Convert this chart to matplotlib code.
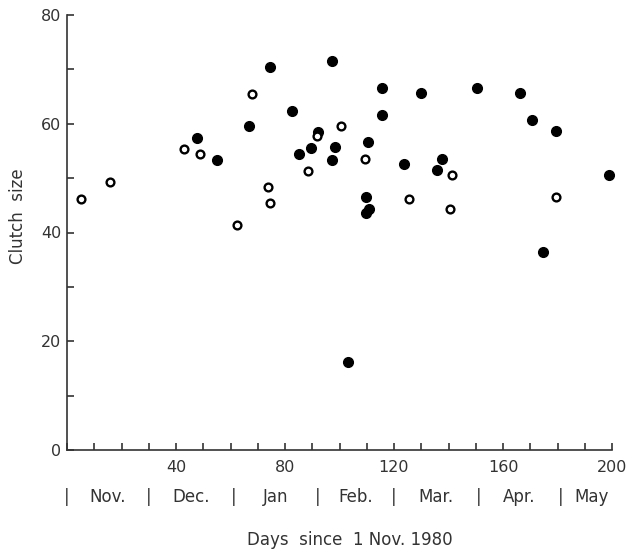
import numpy as np
import matplotlib
matplotlib.use("Agg")
import matplotlib.pyplot as plt
import matplotlib.transforms as mtrans
from matplotlib.ticker import MultipleLocator

# open circles
open_days = [5.1, 15.9, 42.8, 48.8, 62.5, 68.0, 73.6, 74.5, 88.4, 91.6,
             100.5, 109.4, 125.6, 140.5, 141.2, 179.6]
open_size = [46.2, 49.2, 55.3, 54.4, 41.4, 65.4, 48.3, 45.5, 51.3, 57.7,
             59.5, 53.5, 46.2, 44.4, 50.5, 46.5]

# filled circles
fill_days = [47.7, 54.9, 66.7, 74.4, 82.5, 85.1, 89.4, 92.2, 97.3, 98.4,
             97.3, 103.3, 109.6, 110.8, 109.6, 110.5, 115.7, 115.7, 123.6, 129.9,
             135.6, 137.6, 150.5, 166.2, 170.5, 174.5, 179.6, 198.8]
fill_size = [57.4, 53.3, 59.5, 70.5, 62.4, 54.5, 55.5, 58.5, 71.6, 55.7,
             53.4, 16.2, 46.5, 44.3, 43.6, 56.6, 66.6, 61.6, 52.6, 65.7,
             51.5, 53.6, 66.6, 65.7, 60.7, 36.5, 58.6, 50.6]

# month starts (days since 1 Nov 1980)
month_names = ["Nov.", "Dec.", "Jan", "Feb.", "Mar.", "Apr.", "May"]
month_start = [0, 30, 61, 92, 120, 151, 181, 204]

ink = "#333333"
plt.rcParams["font.family"] = ["DejaVu Sans"]

fig = plt.figure(figsize=(6.26, 5.53), dpi=100)
ax = fig.add_axes([67 / 626, 1 - 450 / 553, 545 / 626, 435 / 553])

ax.plot(fill_days, fill_size, "o", color="black", ms=7, mec="black", clip_on=False)
ax.plot(open_days, open_size, "o", mfc="white", mec="black", ms=5.6, mew=1.7,
        clip_on=False)

ax.set_xlim(0, 200)
ax.set_ylim(0, 80)
for s in ("top", "right"):
    ax.spines[s].set_visible(False)
for s in ("left", "bottom"):
    ax.spines[s].set_color(ink)
    ax.spines[s].set_linewidth(1.2)

ax.xaxis.set_major_locator(MultipleLocator(40))
ax.xaxis.set_minor_locator(MultipleLocator(10))
ax.yaxis.set_major_locator(MultipleLocator(20))
ax.yaxis.set_minor_locator(MultipleLocator(10))
ax.tick_params(which="both", direction="in", length=5, width=1.2, color=ink)
ax.tick_params(axis="x", pad=7, labelsize=11.5, labelcolor=ink)
ax.tick_params(axis="y", pad=4, labelsize=11.5, labelcolor=ink)
ax.set_xticks([40, 80, 120, 160, 200])
ax.set_yticks([0, 20, 40, 60, 80])

# month row under the axis
trans = mtrans.blended_transform_factory(ax.transData, fig.transFigure)
row_y = 1 - 497 / 553
for i, name in enumerate(month_names):
    ax.text(month_start[i], row_y, "|", transform=trans, ha="center", va="center",
            fontsize=12, color=ink)
    mid = (month_start[i] + month_start[i + 1]) / 2
    ax.text(mid, row_y, name, transform=trans, ha="center", va="center",
            fontsize=12, color=ink)

fig.text(350 / 626, 1 - 540 / 553, "Days  since  1 Nov. 1980", ha="center",
         va="center", fontsize=12, color=ink)
fig.text(18 / 626, 1 - 216 / 553, "Clutch  size", rotation=90, ha="center",
         va="center", fontsize=12, color=ink)

fig.savefig("out.png", dpi=100)
